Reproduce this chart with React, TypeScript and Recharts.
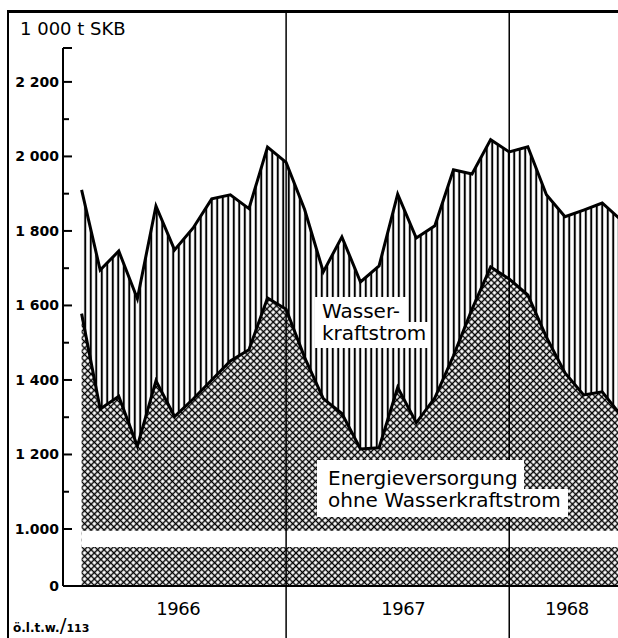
import React from 'react'
import { ComposedChart, Area, Line, XAxis, YAxis, ReferenceLine } from 'recharts'

// month index: 1 = Jan 1966 ... 30 = Jun 1968 (points sit at month end)
const months = [1, 2, 3, 4, 5, 6, 7, 8, 9, 10, 11, 12, 13, 14, 15, 16, 17, 18, 19, 20, 21, 22, 23, 24, 25, 26, 27, 28, 29, 30]

// 1 000 t SKB
const gesamt = [
  1910, 1695, 1746, 1618, 1867, 1749, 1808, 1886, 1897, 1860, 2025, 1984,
  1857, 1690, 1784, 1663, 1706, 1899, 1781, 1814, 1964, 1953, 2045, 2012,
  2026, 1897, 1838, 1856, 1875, 1830,
]
const ohneWasser = [
  1578, 1322, 1356, 1222, 1398, 1302, 1349, 1400, 1451, 1481, 1620, 1590,
  1460, 1350, 1310, 1215, 1218, 1380, 1285, 1352, 1465, 1590, 1703, 1671,
  1628, 1515, 1419, 1360, 1368, 1306,
]

const yearLines = [12, 24]
const yearTicks = [6.2, 18.3, 27.1]
const yearLabels = ['1966', '1967', '1968']

// broken axis: the "0" sits just below the 1 000 line
const AXIS_ZERO = 847
const AXIS_TOP = 2291
const gapLow = 952
const gapHigh = 995
const yTicks = [AXIS_ZERO, 1000, 1100, 1200, 1300, 1400, 1500, 1600, 1700, 1800, 1900, 2000, 2100, 2200, AXIS_TOP]
const yLabels: Record<number, string> = {
  847: '0', 1000: '1.000', 1200: '1 200', 1400: '1 400', 1600: '1 600',
  1800: '1 800', 2000: '2 000', 2200: '2 200',
}

const data = months.map((m, i) => ({ m, gesamt: gesamt[i], ohne: ohneWasser[i] }))

const FONT = "'DejaVu Sans', sans-serif"

function YTick({ x, y, payload }: any) {
  const v = payload.value
  const label = yLabels[v]
  const len = label || v === AXIS_TOP ? 9 : 6
  return (
    <g>
      {v !== AXIS_ZERO && <line x1={x} x2={x + len} y1={y} y2={y} stroke="#000" strokeWidth={2} />}
      {label && (
        <text x={x - 4} y={y} dy={5} textAnchor="end" fontFamily={FONT} fontWeight="bold" fontSize={14} fill="#000">
          {label}
        </text>
      )}
    </g>
  )
}

function XTick({ x, y, index }: any) {
  return (
    <text x={x} y={y + 29} textAnchor="middle" fontFamily={FONT} fontSize={18} letterSpacing={-0.5} fill="#000">
      {yearLabels[index]}
    </text>
  )
}

const labelLine = (pad: string) => ({ background: '#fff', padding: pad, alignSelf: 'flex-start' as const })

export default function App() {
  return (
    <div style={{ position: 'absolute', left: 0, top: 0, width: 618, height: 638, overflow: 'hidden', fontFamily: FONT, color: '#000' }}>
      <ComposedChart width={618} height={638} data={data} margin={{ top: 48, right: 0, bottom: 0, left: 8 }}>
        <defs>
          <pattern id="xhatch" width="4.6" height="4.6" patternUnits="userSpaceOnUse" patternTransform="rotate(45)">
            <rect width="4.6" height="4.6" fill="#fff" />
            <path d="M0 2.3 H4.6 M2.3 0 V4.6" stroke="#000" strokeWidth="1.45" />
          </pattern>
          <pattern id="vlines" width="5.5" height="10" patternUnits="userSpaceOnUse">
            <rect width="5.5" height="10" fill="#fff" />
            <path d="M2.75 0 V10" stroke="#000" strokeWidth="2" />
          </pattern>
        </defs>
        <XAxis
          type="number"
          dataKey="m"
          domain={[0, 29.85]}
          allowDataOverflow
          ticks={yearTicks}
          interval={0}
          height={52}
          tickSize={0}
          tickMargin={0}
          tick={<XTick />}
          axisLine={{ stroke: '#000', strokeWidth: 2 }}
        />
        <YAxis
          type="number"
          domain={[AXIS_ZERO, AXIS_TOP]}
          ticks={yTicks}
          interval={0}
          width={55}
          tickSize={0}
          tickMargin={0}
          tick={<YTick />}
          axisLine={{ stroke: '#000', strokeWidth: 2 }}
        />
        <Area type="linear" dataKey={(d: any) => [d.ohne, d.gesamt]} fill="url(#vlines)" fillOpacity={1} stroke="none" isAnimationActive={false} />
        <Area type="linear" dataKey={(d: any) => [AXIS_ZERO, d.ohne]} fill="url(#xhatch)" fillOpacity={1} stroke="none" isAnimationActive={false} />
        <Area type="linear" dataKey={() => [gapLow, gapHigh]} fill="#fff" fillOpacity={1} stroke="none" isAnimationActive={false} />
        <Line type="linear" dataKey="gesamt" stroke="#000" strokeWidth={3} dot={false} isAnimationActive={false} />
        <Line type="linear" dataKey="ohne" stroke="#000" strokeWidth={3} dot={false} isAnimationActive={false} />
        {yearLines.map(m => (
          <ReferenceLine
            key={m}
            x={m}
            shape={(p: any) => <line x1={p.x1} x2={p.x2} y1={12} y2={638} stroke="#000" strokeWidth={1.5} />}
          />
        ))}
      </ComposedChart>

      {/* frame */}
      <div style={{ position: 'absolute', left: 7, top: 10, width: 611, height: 628, borderTop: '3px solid #000', borderLeft: '2.5px solid #000', boxSizing: 'border-box' }} />

      <div style={{ position: 'absolute', left: 20, top: 20, fontSize: 18, lineHeight: '18px', whiteSpace: 'nowrap' }}>1 000 t SKB</div>

      <div style={{ position: 'absolute', left: 315, top: 297, fontSize: 20, lineHeight: '22px', display: 'flex', flexDirection: 'column', whiteSpace: 'nowrap' }}>
        <div style={labelLine('3px 7px 0 7px')}>Wasser-</div>
        <div style={labelLine('0 4px 4px 7px')}>kraftstrom</div>
      </div>

      <div style={{ position: 'absolute', left: 317, top: 460, fontSize: 20, lineHeight: '22px', display: 'flex', flexDirection: 'column', whiteSpace: 'nowrap' }}>
        <div style={labelLine('7px 6px 0 11px')}>Energieversorgung</div>
        <div style={labelLine('0 7px 6px 11px')}>ohne Wasserkraftstrom</div>
      </div>

      <div style={{ position: 'absolute', left: 13, top: 614, whiteSpace: 'nowrap', lineHeight: '22px' }}>
        <span style={{ fontSize: 12, fontWeight: 'bold' }}>ö.l.t.w.</span>
        <span style={{ fontSize: 20 }}>/</span>
        <span style={{ fontSize: 11, fontWeight: 'bold' }}>113</span>
      </div>
    </div>
  )
}
